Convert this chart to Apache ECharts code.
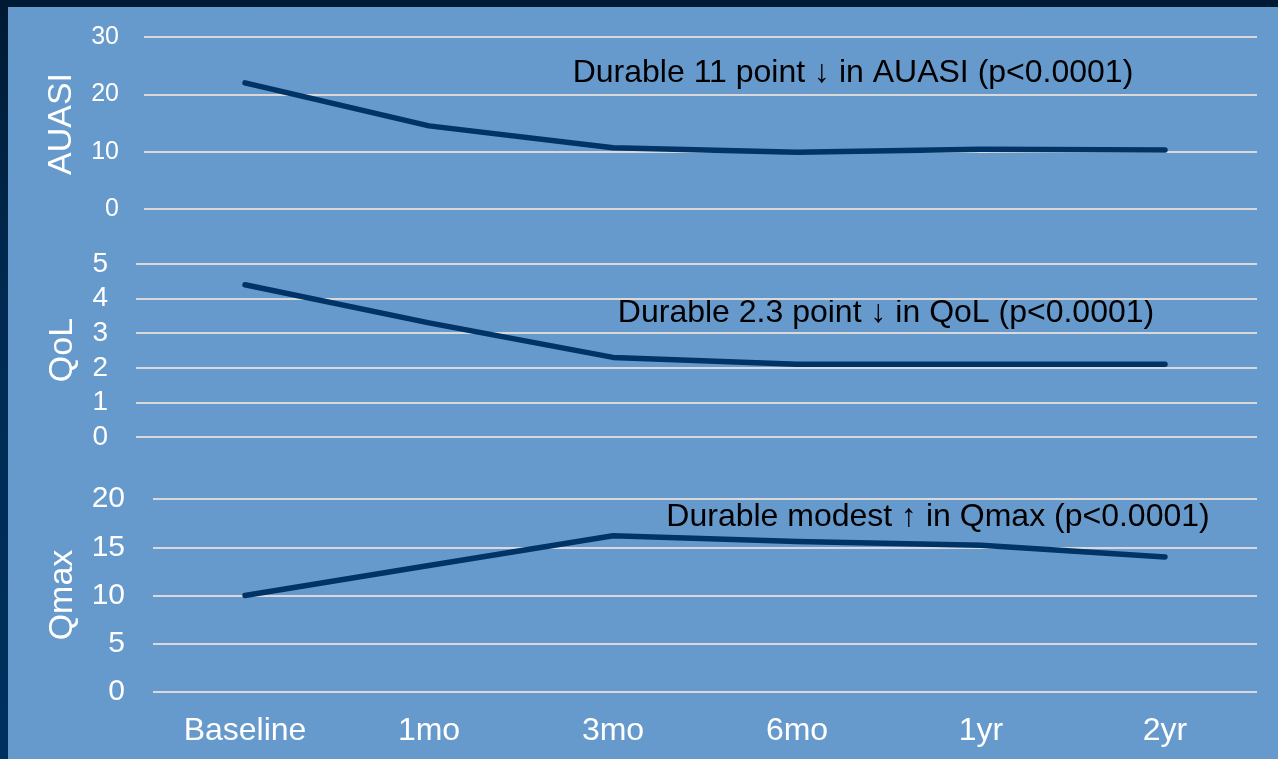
<!DOCTYPE html>
<html>
<head>
<meta charset="utf-8">
<title>AUASI, QoL and Qmax over time</title>
<script src="https://cdn.jsdelivr.net/npm/echarts@6/dist/echarts.min.js"></script>
<style>
  html, body { margin: 0; padding: 0; width: 1278px; height: 759px; overflow: hidden; }
  body { background: linear-gradient(to bottom, #001a33 0%, #002a52 40%, #00305f 100%); position: relative; }
  #panel { position: absolute; left: 8px; top: 7px; right: 0; bottom: 0; background: #6699cc; }
  #chart { position: absolute; left: 0; top: 0; width: 1278px; height: 759px; }
</style>
</head>
<body>
<div id="panel"></div>
<div id="chart"></div>
<script>
// Follow-up time points
const categories = ['Baseline', '1mo', '3mo', '6mo', '1yr', '2yr'];

// Mean scores at each time point
const auasi = [22.0, 14.5, 10.7, 9.9, 10.4, 10.3];
const qol = [4.4, 3.3, 2.3, 2.1, 2.1, 2.1];
const qmax = [10.0, 13.1, 16.2, 15.6, 15.2, 14.0];

// Annotation texts per panel
const notes = [
  'Durable 11 point \u2193 in AUASI (p<0.0001)',
  'Durable 2.3 point \u2193 in QoL (p<0.0001)',
  'Durable modest \u2191 in Qmax (p<0.0001)'
];
const panelNames = ['AUASI', 'QoL', 'Qmax'];

const FONT = '"Liberation Sans", Arial, sans-serif';
const LINE = '#003366';
const GRIDLINE = '#d9d9d9';

const indexed = arr => arr.map((v, i) => [i, v]);

const chart = echarts.init(document.getElementById('chart'), null, { renderer: 'canvas' });

const splitLine = { show: true, lineStyle: { color: GRIDLINE, width: 2 } };

const lineSeries = (data, idx) => ({
  type: 'line',
  xAxisIndex: idx,
  yAxisIndex: idx,
  data: data,
  symbol: 'none',
  smooth: false,
  lineStyle: { color: LINE, width: 5.5, cap: 'round', join: 'round' },
  silent: true
});

const nameText = (x, y, text) => ({
  type: 'text', x: x, y: y, rotation: Math.PI / 2,
  style: { text: text, fill: '#ffffff', font: '34px ' + FONT, align: 'center', verticalAlign: 'middle' }
});

const noteText = (x, y, text) => ({
  type: 'text', x: x, y: y,
  style: { text: text, fill: '#000000', font: '32px ' + FONT, align: 'center', verticalAlign: 'middle' }
});

chart.setOption({
  backgroundColor: 'transparent',
  animation: false,
  textStyle: { fontFamily: FONT },
  grid: [
    { left: 144, right: 21, top: 37, height: 172 },
    { left: 136, right: 21, top: 264, height: 173 },
    { left: 153, right: 21, top: 499, height: 193 }
  ],
  xAxis: [
    { type: 'value', gridIndex: 0, min: -101 / 184, max: 5.5, show: false },
    { type: 'value', gridIndex: 1, min: -109 / 184, max: 5.5, show: false },
    {
      type: 'category', gridIndex: 2, data: categories, boundaryGap: true,
      axisLine: { show: false }, axisTick: { show: false },
      axisLabel: { color: '#ffffff', fontSize: 32, margin: 23, fontFamily: FONT }
    }
  ],
  yAxis: [
    {
      type: 'value', gridIndex: 0, min: 0, max: 30, interval: 10,
      axisLine: { show: false }, axisTick: { show: false }, splitLine,
      axisLabel: { color: '#ffffff', fontSize: 25, margin: 25, fontFamily: FONT }
    },
    {
      type: 'value', gridIndex: 1, min: 0, max: 5, interval: 1,
      axisLine: { show: false }, axisTick: { show: false }, splitLine,
      axisLabel: { color: '#ffffff', fontSize: 28, margin: 28, fontFamily: FONT }
    },
    {
      type: 'value', gridIndex: 2, min: 0, max: 20, interval: 5,
      axisLine: { show: false }, axisTick: { show: false }, splitLine,
      axisLabel: { color: '#ffffff', fontSize: 30, margin: 28, fontFamily: FONT }
    }
  ],
  series: [
    lineSeries(indexed(auasi), 0),
    lineSeries(indexed(qol), 1),
    lineSeries(qmax, 2)
  ],
  graphic: [
    // vertical panel titles
    nameText(62, 124, panelNames[0]),
    nameText(63, 350, panelNames[1]),
    nameText(63, 595, panelNames[2]),
    // panel annotations
    noteText(853, 73, notes[0]),
    noteText(886, 313, notes[1]),
    noteText(938, 517, notes[2])
  ]
});
</script>
</body>
</html>
